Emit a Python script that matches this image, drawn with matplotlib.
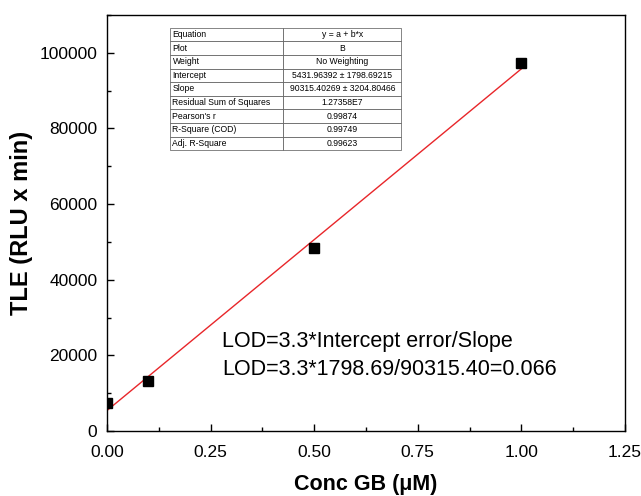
import matplotlib
matplotlib.use('Agg')
import matplotlib.pyplot as plt
import matplotlib.ticker as ticker
import numpy as np

plt.rcParams['font.family'] = ['Liberation Sans', 'DejaVu Sans']

# data
conc_um = [0.0, 0.1, 0.5, 1.0]
tle = [7500, 13100, 48300, 97300]

# linear fit results (from the table)
intercept = 5431.96392
slope = 90315.40269

table_rows = [
    ['Equation', 'y = a + b*x'],
    ['Plot', 'B'],
    ['Weight', 'No Weighting'],
    ['Intercept', '5431.96392 \u00b1 1798.69215'],
    ['Slope', '90315.40269 \u00b1 3204.80466'],
    ['Residual Sum of Squares', '1.27358E7'],
    ["Pearson's r", '0.99874'],
    ['R-Square (COD)', '0.99749'],
    ['Adj. R-Square', '0.99623'],
]

fig = plt.figure(figsize=(6.41, 4.96), dpi=100)
ax = fig.add_axes([0.167, 0.131, 0.808, 0.839])

xfit = np.array([0.0, 1.0])
ax.plot(xfit, intercept + slope * xfit, color='#e8262a', linewidth=1.0, zorder=2)
ax.plot(conc_um, tle, linestyle='none', marker='s', markersize=6.5,
        color='black', zorder=3)

ax.set_xlim(0, 1.25)
ax.set_ylim(0, 110000)
ax.xaxis.set_major_locator(ticker.MultipleLocator(0.25))
ax.xaxis.set_minor_locator(ticker.MultipleLocator(0.125))
ax.xaxis.set_major_formatter(ticker.FormatStrFormatter('%.2f'))
ax.yaxis.set_major_locator(ticker.MultipleLocator(20000))
ax.yaxis.set_minor_locator(ticker.MultipleLocator(10000))
ax.tick_params(which='both', direction='in', labelsize=12.5, width=1)
ax.tick_params(which='major', length=5)
ax.tick_params(which='minor', length=3)
ax.tick_params(axis='y', pad=7)
ax.tick_params(axis='x', pad=10)
for sp in ax.spines.values():
    sp.set_linewidth(1.0)

ax.set_xlabel('Conc GB (\u03bcM)', fontsize=15.5, fontweight='bold', labelpad=10)
ax.set_ylabel('TLE (RLU x min)', fontsize=17, fontweight='bold', labelpad=5)

ax.text(0.222, 0.215, 'LOD=3.3*Intercept error/Slope', transform=ax.transAxes,
        fontsize=15.5, va='center')
ax.text(0.222, 0.148, 'LOD=3.3*1798.69/90315.40=0.066', transform=ax.transAxes,
        fontsize=15.5, va='center')

tbl = ax.table(cellText=table_rows, bbox=[0.122, 0.675, 0.446, 0.294],
               colWidths=[0.49, 0.51], cellLoc='left')
tbl.auto_set_font_size(False)
for (r, c), cell in tbl.get_celld().items():
    cell.set_edgecolor('#555555')
    cell.set_linewidth(0.5)
    cell.get_text().set_fontsize(6.2)
    if c == 1:
        cell.get_text().set_horizontalalignment('center')
        cell._loc = 'center'
    else:
        cell.PAD = 0.02

fig.savefig('out.png', dpi=100)
